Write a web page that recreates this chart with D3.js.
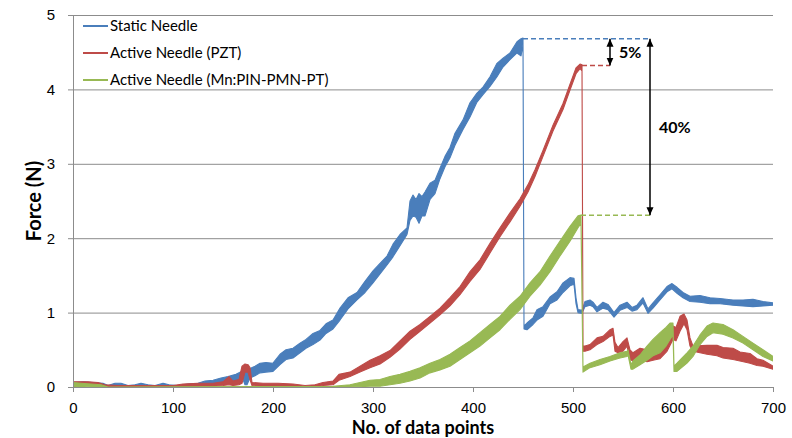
<!DOCTYPE html>
<html>
<head>
<meta charset="utf-8">
<script src="https://cdn.jsdelivr.net/npm/d3@7"></script>
<style>
  body { margin: 0; background: #fff; }
  svg { font-family: Lato, "Open Sans", sans-serif; }
</style>
</head>
<body>
<div id="main-container"></div>
<script>
// Series names
const SERIES_NAMES = ['Static Needle', 'Active Needle (PZT)', 'Active Needle (Mn:PIN-PMN-PT)'];

// Each entry: [data point, lower edge of the noise band, upper edge] in N
const STATIC_NEEDLE = [
  [0,0.02,0.06],[10,0.02,0.07],[20,0.02,0.06],[30,0.01,0.05],[35,0,0.02],[42,0.01,0.05],[48,0.01,0.05],
  [55,0,0.02],[62,0,0.03],[68,0.01,0.05],[75,0,0.03],[82,0,0.02],[90,0.01,0.05],[96,0,0.03],[105,0,0.02],
  [115,0.01,0.04],[125,0.01,0.05],[132,0.03,0.08],[140,0.03,0.09],[148,0.05,0.12],[155,0.07,0.14],
  [163,0.08,0.17],[170,0.1,0.22],[172,0.03,0.2],[174,0.03,0.2],[177,0.12,0.25],[182,0.15,0.28],
  [187,0.19,0.32],[193,0.2,0.33],[200,0.21,0.32],[207,0.3,0.44],[213,0.37,0.5],[220,0.39,0.52],
  [227,0.46,0.59],[233,0.52,0.64],[240,0.57,0.72],[247,0.63,0.76],[253,0.72,0.85],[260,0.78,0.9],
  [267,0.9,1.06],[275,1.05,1.2],[284,1.17,1.27],[292,1.27,1.42],[300,1.4,1.56],[307,1.52,1.66],
  [314,1.64,1.76],[320,1.75,1.92],[327,1.9,2.05],[334,2.05,2.14],[337,2.24,2.5],[340,2.3,2.58],
  [343,2.28,2.52],[346,2.2,2.6],[349,2.3,2.56],[352,2.3,2.62],[357,2.52,2.74],[362,2.6,2.78],
  [367,2.8,2.94],[372,2.96,3.1],[377,3.08,3.22],[382,3.25,3.41],[390,3.46,3.59],[397,3.63,3.82],
  [404,3.83,3.95],[410,3.93,4.03],[417,4.04,4.17],[424,4.17,4.35],[430,4.3,4.42],[437,4.4,4.49],
  [444,4.49,4.64],[448,4.45,4.68],[450,4.6,4.69],[451,0.78,0.82],[454,0.77,0.86],[460,0.84,0.93],
  [464,0.9,1.04],[470,0.95,1.08],[477,1.12,1.21],[484,1.17,1.28],[490,1.27,1.4],[497,1.36,1.47],
  [501,1.38,1.46],[503,1.12,1.2],[505,1.0,1.04],[509,0.99,1.03],[512,1.08,1.15],[517,1.1,1.17],
  [520,1.08,1.14],[524,1.01,1.07],[530,1.06,1.14],[535,1.04,1.11],[541,0.94,1.0],[547,1.03,1.1],
  [554,1.07,1.14],[559,1.02,1.07],[564,1.04,1.1],[570,1.13,1.2],[575,0.99,1.05],[580,1.06,1.13],
  [587,1.17,1.24],[594,1.28,1.35],[599,1.32,1.39],[604,1.26,1.34],[610,1.2,1.27],[617,1.15,1.22],
  [627,1.14,1.23],[637,1.12,1.2],[647,1.12,1.19],[660,1.1,1.17],[670,1.09,1.17],[680,1.08,1.18],
  [690,1.09,1.15],[700,1.1,1.13]
];

const ACTIVE_PZT = [
  [0,0,0.07],[5,0.02,0.07],[15,0.02,0.07],[25,0.02,0.06],[32,0,0.03],[45,0,0.02],[60,0,0.02],
  [80,0,0.02],[100,0,0.02],[110,0.01,0.04],[125,0.01,0.05],[140,0.01,0.05],[150,0.02,0.07],
  [156,0.03,0.14],[160,0.02,0.08],[166,0.03,0.1],[169,0.05,0.28],[172,0.2,0.31],[175,0.2,0.3],
  [177,0.1,0.26],[179,0.02,0.06],[190,0.01,0.05],[205,0.01,0.05],[220,0.01,0.04],[232,0,0.02],
  [242,0,0.03],[250,0.02,0.06],[260,0.03,0.08],[266,0.09,0.17],[277,0.14,0.2],[287,0.2,0.28],
  [297,0.26,0.36],[307,0.31,0.42],[317,0.4,0.49],[327,0.51,0.62],[337,0.64,0.75],[347,0.75,0.84],
  [357,0.86,0.95],[367,0.97,1.06],[377,1.09,1.2],[387,1.24,1.35],[397,1.42,1.55],[407,1.58,1.71],
  [417,1.8,1.93],[427,2.02,2.14],[437,2.22,2.34],[447,2.43,2.53],[455,2.62,2.72],[462,2.83,2.92],
  [470,3.1,3.18],[480,3.44,3.52],[490,3.73,3.81],[497,3.99,4.07],[503,4.21,4.29],[507,4.28,4.34],
  [509,4.25,4.33],[510,0.48,0.55],[512,0.48,0.55],[517,0.5,0.57],[524,0.57,0.66],[530,0.61,0.68],
  [537,0.68,0.77],[540,0.7,0.79],[542,0.48,0.6],[545,0.46,0.53],[550,0.48,0.61],[554,0.55,0.66],
  [557,0.37,0.5],[560,0.35,0.46],[567,0.37,0.52],[574,0.34,0.5],[580,0.36,0.57],[587,0.38,0.64],
  [594,0.48,0.75],[600,0.64,0.82],[603,0.62,0.8],[607,0.75,0.95],[611,0.85,0.98],[614,0.77,0.9],
  [617,0.55,0.66],[620,0.48,0.55],[634,0.44,0.56],[644,0.42,0.56],[650,0.39,0.53],[660,0.37,0.52],
  [667,0.35,0.47],[677,0.32,0.45],[684,0.29,0.38],[690,0.28,0.36],[700,0.24,0.28]
];

const ACTIVE_MN = [
  [0,0,0.06],[8,0.01,0.05],[18,0,0.04],[28,0,0.03],[35,0,0],[260,0,0.01],[277,0,0.03],[297,0.01,0.09],
  [307,0.01,0.1],[317,0.03,0.14],[327,0.05,0.17],[337,0.08,0.21],[347,0.12,0.26],[357,0.19,0.32],
  [367,0.23,0.37],[377,0.28,0.44],[387,0.37,0.53],[397,0.46,0.62],[407,0.55,0.73],[417,0.66,0.84],
  [427,0.77,0.95],[437,0.91,1.1],[447,1.04,1.22],[457,1.22,1.4],[467,1.37,1.55],[477,1.55,1.76],
  [487,1.76,1.96],[497,1.96,2.16],[505,2.14,2.3],[508,2.2,2.31],[510,0.2,0.27],[517,0.26,0.32],
  [527,0.3,0.37],[537,0.35,0.41],[547,0.39,0.46],[554,0.41,0.48],[555,0.43,0.5],[558,0.24,0.3],
  [560,0.24,0.35],[567,0.3,0.43],[574,0.36,0.55],[580,0.42,0.64],[587,0.46,0.73],[593,0.55,0.8],
  [597,0.64,0.86],[600,0.7,0.86],[601,0.21,0.28],[604,0.21,0.32],[614,0.32,0.46],[620,0.41,0.55],
  [627,0.57,0.7],[634,0.68,0.82],[640,0.73,0.86],[650,0.71,0.84],[660,0.66,0.77],[670,0.59,0.68],
  [680,0.5,0.59],[690,0.41,0.5],[700,0.35,0.41]
];

// Peak reference lines (dashed): [series index, x start, x end, force]
const PEAK_LINES = [[0, 450, 577, 4.68], [1, 509, 537, 4.32], [2, 508, 577, 2.31]];
// Reduction arrows: [x, force top, force bottom, label]
const ARROWS = [[537, 4.68, 4.32, '5%'], [577, 4.68, 2.31, '40%']];

const X_TICKS = [0, 100, 200, 300, 400, 500, 600, 700];
const Y_TICKS = [0, 1, 2, 3, 4, 5];

const COLORS = ['#4a7ebb', '#be4b48', '#98b954'];
const WIDTH = 792, HEIGHT = 438;
const MARGIN = { top: 15, right: 19, bottom: 51, left: 73 };

const svg = d3.select('#main-container').append('svg')
  .attr('width', WIDTH).attr('height', HEIGHT);

const x = d3.scaleLinear().domain([0, 700]).range([MARGIN.left, WIDTH - MARGIN.right]);
const y = d3.scaleLinear().domain([0, 5]).range([HEIGHT - MARGIN.bottom, MARGIN.top]);

// Gridlines
svg.append('g')
  .attr('transform', `translate(${MARGIN.left},0)`)
  .call(d3.axisLeft(y).tickValues(Y_TICKS.slice(1)).tickSize(-(WIDTH - MARGIN.left - MARGIN.right)).tickFormat(''))
  .call(g => g.select('.domain').remove())
  .call(g => g.selectAll('line').attr('stroke', '#8c8c8c'));

svg.append('clipPath').attr('id', 'plot-clip')
  .append('rect')
  .attr('x', MARGIN.left).attr('y', MARGIN.top)
  .attr('width', WIDTH - MARGIN.left - MARGIN.right)
  .attr('height', HEIGHT - MARGIN.top - MARGIN.bottom);

// Series bands
const area = d3.area()
  .x(d => x(d[0]))
  .y0(d => y(d[1]))
  .y1(d => y(d[2]));

const plot = svg.append('g').attr('clip-path', 'url(#plot-clip)');
[STATIC_NEEDLE, ACTIVE_PZT, ACTIVE_MN].forEach((data, i) => {
  plot.append('path')
    .datum(data)
    .attr('d', area)
    .attr('fill', COLORS[i])
    .attr('stroke', COLORS[i])
    .attr('stroke-width', 1.1)
    .attr('stroke-linejoin', 'round');
});

// Axes
const yAxis = svg.append('g')
  .attr('transform', `translate(${MARGIN.left},0)`)
  .call(d3.axisLeft(y).tickValues(Y_TICKS).tickFormat(d3.format('d')).tickSize(5).tickPadding(13))
  .call(g => g.selectAll('line, path').attr('stroke', '#8c8c8c'));
yAxis.selectAll('text').style('font-size', '15px').attr('fill', '#000');

const xAxis = svg.append('g')
  .attr('transform', `translate(0,${HEIGHT - MARGIN.bottom})`)
  .call(d3.axisBottom(x).tickValues(X_TICKS).tickSize(5).tickPadding(10).tickSizeOuter(0))
  .call(g => g.selectAll('line, path').attr('stroke', '#8c8c8c'));
xAxis.selectAll('text').style('font-size', '15px').attr('fill', '#000');

// Axis titles
svg.append('text')
  .attr('x', (MARGIN.left + WIDTH - MARGIN.right) / 2)
  .attr('y', 434)
  .attr('text-anchor', 'middle')
  .style('font-size', '18px').style('font-weight', 'bold')
  .text('No. of data points');

svg.append('text')
  .attr('transform', `translate(41,${(MARGIN.top + HEIGHT - MARGIN.bottom) / 2}) rotate(-90)`)
  .attr('text-anchor', 'middle')
  .style('font-size', '20px').style('font-weight', 'bold')
  .text('Force (N)');

// Peak dashed lines
PEAK_LINES.forEach(([s, x0, x1, f]) => {
  svg.append('line')
    .attr('x1', x(x0)).attr('x2', x(x1))
    .attr('y1', y(f)).attr('y2', y(f))
    .attr('stroke', COLORS[s])
    .attr('stroke-width', 1.5)
    .attr('stroke-dasharray', '5,3');
});

// Arrows
svg.append('defs').append('marker')
  .attr('id', 'arrow')
  .attr('viewBox', '0 0 8 8')
  .attr('refX', 8).attr('refY', 4)
  .attr('markerWidth', 8).attr('markerHeight', 8)
  .attr('markerUnits', 'userSpaceOnUse')
  .attr('orient', 'auto-start-reverse')
  .append('path')
  .attr('d', 'M0,0.5 L8,4 L0,7.5 Z')
  .attr('fill', '#000');

ARROWS.forEach(([ax, f0, f1, label]) => {
  svg.append('line')
    .attr('x1', x(ax)).attr('x2', x(ax))
    .attr('y1', y(f0)).attr('y2', y(f1))
    .attr('stroke', '#000')
    .attr('stroke-width', 1.5)
    .attr('marker-start', 'url(#arrow)')
    .attr('marker-end', 'url(#arrow)');
  svg.append('text')
    .attr('x', x(ax) + 9)
    .attr('y', (y(f0) + y(f1)) / 2)
    .attr('dy', '0.35em')
    .style('font-size', '16px').style('font-weight', 'bold')
    .text(label);
});

// Legend
const legend = svg.append('g').attr('transform', 'translate(83,26)');
SERIES_NAMES.forEach((name, i) => {
  const row = legend.append('g').attr('transform', `translate(0,${i * 27})`);
  row.append('line')
    .attr('x1', 0).attr('x2', 25)
    .attr('stroke', COLORS[i]).attr('stroke-width', 2);
  row.append('text')
    .attr('x', 27).attr('dy', '0.35em')
    .style('font-size', '15px')
    .text(name);
});
</script>
</body>
</html>
